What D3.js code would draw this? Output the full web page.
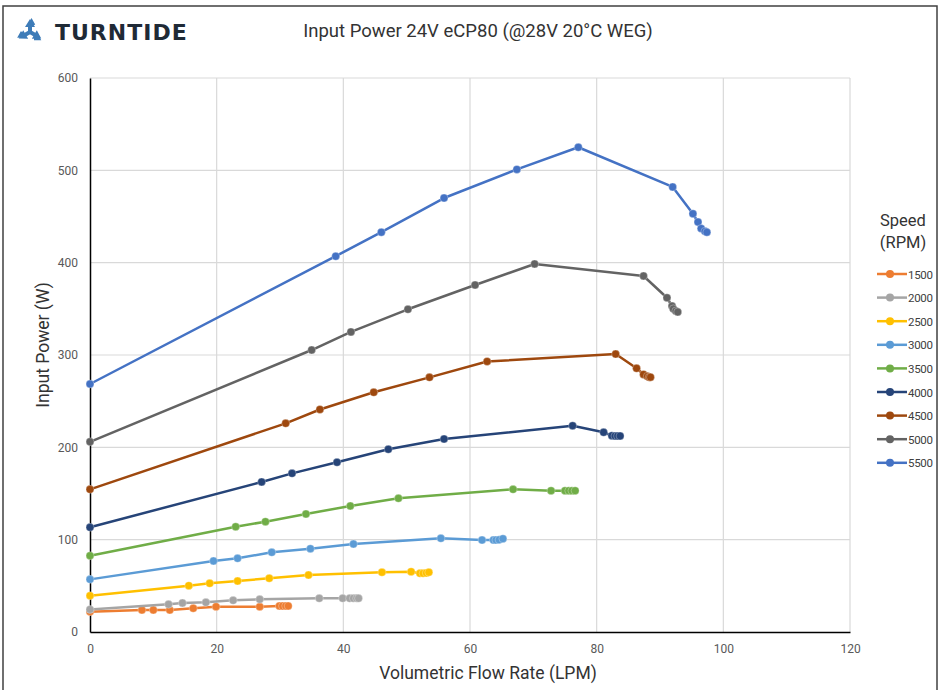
<!DOCTYPE html>
<html>
<head>
<meta charset="utf-8">
<script src="https://cdn.jsdelivr.net/npm/d3@7"></script>
<style>
  body { margin: 0; background: #fff; }
  svg text { font-family: Roboto, "Open Sans", sans-serif; }
</style>
</head>
<body>
<svg id="chart" width="938" height="690"></svg>
<script>
// speeds (RPM) for each series
var speeds = [1500, 2000, 2500, 3000, 3500, 4000, 4500, 5000, 5500];
var colors = ["#ED7D31", "#A5A5A5", "#FFC000", "#5B9BD5", "#70AD47", "#264478", "#9E480E", "#636363", "#4472C4"];

// flow (LPM) and power (W)
var flow1500 = [0, 8.2, 10, 12.6, 16.3, 19.9, 26.8, 29.9, 30.4, 30.9, 31.3];
var power1500 = [22, 23.8, 23.8, 23.8, 25.7, 27.4, 27.4, 28.2, 28.2, 28.2, 28.2];
var flow2000 = [0, 12.4, 14.6, 18.3, 22.6, 26.8, 36.2, 39.9, 41, 41.6, 42.1, 42.4];
var power2000 = [24.5, 30, 31.4, 32.1, 34.3, 35.4, 36.5, 36.5, 36.5, 36.5, 36.5, 36.5];
var flow2500 = [0, 15.6, 18.9, 23.3, 28.3, 34.5, 46.1, 50.7, 52.1, 52.6, 53.1, 53.5];
var power2500 = [39.3, 50.2, 52.7, 55.2, 58.2, 61.7, 64.7, 65.3, 63.6, 63.6, 64, 64.7];
var flow3000 = [0, 19.5, 23.3, 28.7, 34.8, 41.6, 55.4, 61.9, 63.7, 64.1, 64.6, 65.2];
var power3000 = [57, 76.9, 79.8, 86.3, 90.2, 95.3, 101.5, 99.6, 99.6, 99.6, 99.8, 101];
var flow3500 = [0, 23, 27.7, 34.1, 41.1, 48.7, 66.8, 72.8, 75, 75.6, 76.1, 76.6];
var power3500 = [82.6, 114, 119.5, 127.8, 136.5, 144.8, 154.5, 153, 153, 153, 153, 153];
var flow4000 = [0, 27.1, 31.9, 39, 47.1, 55.9, 76.2, 81.1, 82.4, 82.9, 83.3, 83.7];
var power4000 = [113.4, 162.5, 171.8, 183.8, 197.9, 209, 223.4, 216.3, 212.6, 212.3, 212.3, 212.3];
var flow4500 = [0, 30.9, 36.3, 44.8, 53.6, 62.7, 83, 86.3, 87.4, 88, 88.3, 88.5];
var power4500 = [154.5, 226, 241, 259.6, 275.8, 293, 301, 285.6, 279, 277, 276, 276];
var flow5000 = [0, 35, 41.2, 50.2, 60.8, 70.2, 87.4, 91.1, 91.9, 92.1, 92.5, 92.8];
var power5000 = [206, 305.4, 325, 349.5, 375.8, 398.6, 385.6, 362, 353, 350, 347.7, 346.6];
var flow5500 = [0, 38.8, 46, 55.9, 67.4, 77.1, 92, 95.2, 96, 96.5, 97.1, 97.4];
var power5500 = [268.6, 407, 433, 470, 501, 525, 482, 453, 444, 437, 434, 433];

var xTicks = [0, 20, 40, 60, 80, 100, 120];
var yTicks = [0, 100, 200, 300, 400, 500, 600];

var flows = [flow1500, flow2000, flow2500, flow3000, flow3500, flow4000, flow4500, flow5000, flow5500];
var powers = [power1500, power2000, power2500, power3000, power3500, power4000, power4500, power5000, power5500];

var series = speeds.map(function (s, i) {
  return {
    speed: s,
    color: colors[i],
    points: flows[i].map(function (f, j) { return { x: f, y: powers[i][j] }; })
  };
});

var svg = d3.select("#chart");

// outer frame
svg.append("rect")
  .attr("x", 3).attr("y", 6)
  .attr("width", 934).attr("height", 690)
  .attr("fill", "none")
  .attr("stroke", "#404040")
  .attr("stroke-width", 1.5);

// logo
var logo = svg.append("g").attr("transform", "translate(30,32)");
var petal = "M0,-12 L5,-4 L2,-4 L2,2 L-2,2 L-2,-4 L-5,-4 Z";
[0, 120, 240].forEach(function (a) {
  logo.append("path")
    .attr("d", petal)
    .attr("transform", "rotate(" + a + ") translate(0,-1)")
    .attr("fill", "#3E7CB8");
  logo.append("path")
    .attr("d", "M-4,-7 L-9,-7 L-6,-2")
    .attr("transform", "rotate(" + (a + 60) + ")")
    .attr("fill", "none")
    .attr("stroke", "#3E7CB8")
    .attr("stroke-width", 2.6);
});
svg.append("text")
  .attr("x", 55).attr("y", 40)
  .attr("font-size", 22)
  .attr("letter-spacing", 1)
  .attr("fill", "#1F2A36")
  .style("font-family", "'DejaVu Sans', sans-serif")
  .style("font-weight", "bold")
  .text("TURNTIDE");

// title
svg.append("text")
  .attr("x", 478).attr("y", 37)
  .attr("text-anchor", "middle")
  .attr("font-size", 18.5)
  .attr("fill", "#333")
  .text("Input Power 24V eCP80 (@28V 20°C WEG)");

var margin = { left: 90, right: 850, top: 78, bottom: 632 };

var xScale = d3.scaleLinear().domain([0, 120]).range([margin.left, margin.right]);
var yScale = d3.scaleLinear().domain([0, 600]).range([margin.bottom, margin.top]);

// grid lines
svg.append("g")
  .selectAll("line.hgrid")
  .data(yTicks.slice(1))
  .join("line")
  .attr("x1", margin.left).attr("x2", margin.right)
  .attr("y1", d => yScale(d)).attr("y2", d => yScale(d))
  .attr("stroke", "#D9D9D9").attr("stroke-width", 1.2);

svg.append("g")
  .selectAll("line.vgrid")
  .data(xTicks.slice(1))
  .join("line")
  .attr("x1", d => xScale(d)).attr("x2", d => xScale(d))
  .attr("y1", margin.top).attr("y2", margin.bottom)
  .attr("stroke", "#D9D9D9").attr("stroke-width", 1.2);

// axes
var xAxis = svg.append("g")
  .attr("transform", "translate(0," + margin.bottom + ")")
  .call(d3.axisBottom(xScale).tickValues(xTicks).tickSize(0).tickPadding(12));
var yAxis = svg.append("g")
  .attr("transform", "translate(" + margin.left + ",0)")
  .call(d3.axisLeft(yScale).tickValues(yTicks).tickSize(0).tickPadding(12));

[xAxis, yAxis].forEach(function (ax) {
  ax.select(".domain").attr("stroke", "#000").attr("stroke-width", 1.5);
  ax.selectAll("text")
    .attr("font-size", 12)
    .attr("fill", "#595959")
    .style("font-family", "Roboto, sans-serif");
});

// axis titles
svg.append("text")
  .attr("x", 488).attr("y", 679)
  .attr("text-anchor", "middle")
  .attr("font-size", 17.5)
  .attr("fill", "#333")
  .text("Volumetric Flow Rate (LPM)");

svg.append("text")
  .attr("transform", "translate(49,345) rotate(-90)")
  .attr("text-anchor", "middle")
  .attr("font-size", 17.5)
  .attr("fill", "#333")
  .text("Input Power (W)");

// lines and markers
var line = d3.line()
  .x(d => xScale(d.x))
  .y(d => yScale(d.y));

var groups = svg.append("g")
  .selectAll("g.series")
  .data(series)
  .join("g")
  .attr("class", "series");

groups.append("path")
  .attr("d", d => line(d.points))
  .attr("fill", "none")
  .attr("stroke", d => d.color)
  .attr("stroke-width", 2.5)
  .attr("stroke-linejoin", "round");

groups.each(function (s) {
  d3.select(this).selectAll("circle")
    .data(s.points)
    .join("circle")
    .attr("cx", d => xScale(d.x))
    .attr("cy", d => yScale(d.y))
    .attr("r", 4)
    .attr("fill", s.color)
    .attr("stroke", "#fff")
    .attr("stroke-opacity", 0.5)
    .attr("stroke-width", 0.6);
});

// legend
svg.append("text")
  .attr("x", 903).attr("y", 226)
  .attr("text-anchor", "middle")
  .attr("font-size", 16.5)
  .attr("fill", "#333")
  .text("Speed");
svg.append("text")
  .attr("x", 903).attr("y", 248)
  .attr("text-anchor", "middle")
  .attr("font-size", 16.5)
  .attr("fill", "#333")
  .text("(RPM)");

var legend = svg.append("g")
  .selectAll("g.item")
  .data(series)
  .join("g")
  .attr("class", "item")
  .attr("transform", (d, i) => "translate(877," + (274 + i * 23.6) + ")");

legend.append("line")
  .attr("x1", 0).attr("x2", 30)
  .attr("stroke", d => d.color)
  .attr("stroke-width", 2.5);
legend.append("circle")
  .attr("cx", 13).attr("r", 4)
  .attr("fill", d => d.color);
legend.append("text")
  .attr("x", 31).attr("y", 4.5)
  .attr("font-size", 11.5)
  .attr("letter-spacing", -0.3)
  .attr("fill", "#404040")
  .text(d => d.speed);
</script>
</body>
</html>
